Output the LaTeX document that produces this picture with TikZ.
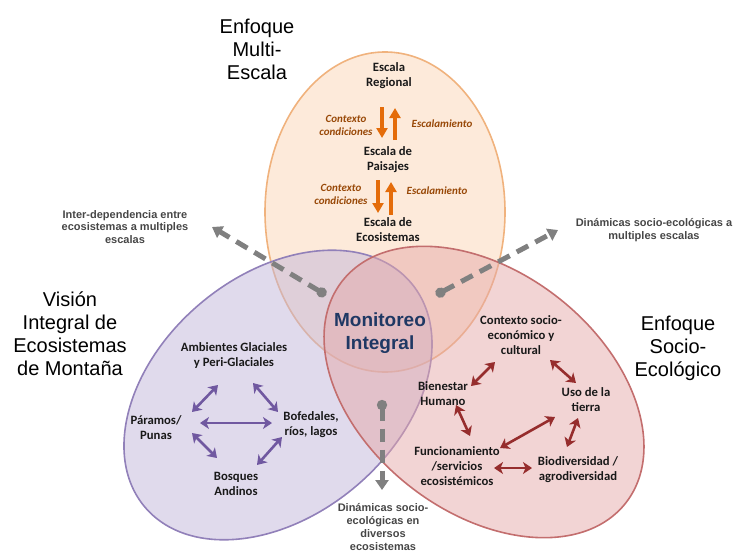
\documentclass[tikz,border=0pt]{standalone}
\usepackage{fontspec}
\setmainfont{Carlito}
\newfontfamily\arialf{Liberation Sans}
\usetikzlibrary{arrows.meta,positioning}
\definecolor{oFill}{RGB}{251,213,181}
\definecolor{oLine}{RGB}{240,178,125}
\definecolor{oArrow}{RGB}{228,108,10}
\definecolor{oText}{RGB}{152,72,7}
\definecolor{vFill}{RGB}{193,181,217}
\definecolor{vLine}{RGB}{145,128,185}
\definecolor{vArrow}{RGB}{112,88,160}
\definecolor{sFill}{RGB}{229,169,169}
\definecolor{sLine}{RGB}{195,110,110}
\definecolor{sArrow}{RGB}{150,45,45}
\definecolor{navy}{RGB}{31,56,100}
\definecolor{hintgray}{RGB}{70,70,70}
\definecolor{dashgray}{RGB}{128,128,128}

\begin{document}
\begin{tikzpicture}
  [
    x=1pt, y=-1pt,
    zone/.style={line width=1.6pt, fill opacity=0.5},
    heading/.style={font=\arialf\fontsize{20}{23}\selectfont, align=center, inner sep=0pt},
    core/.style={font=\arialf\bfseries\fontsize{19}{23}\selectfont, text=navy, align=center, inner sep=0pt},
    item/.style={font=\bfseries\fontsize{12.7}{15}\selectfont, text=black!90, align=center, inner sep=0pt},
    flow/.style={font=\bfseries\itshape\fontsize{11}{13}\selectfont, text=oText, align=center, inner sep=0pt},
    hint/.style={font=\arialf\bfseries\fontsize{11}{12.8}\selectfont, text=hintgray, align=center, inner sep=0pt},
    scaleup/.style={draw=oArrow, line width=3.2pt, -{Triangle[length=10pt,width=11pt]}},
    twoway/.style={line width=2.6pt, {Stealth[length=9pt,width=12pt,inset=2.5pt]}-{Stealth[length=9pt,width=12pt,inset=2.5pt]}},
    link/.style={draw=dashgray, line width=5pt, dash pattern=on 13pt off 8pt, {Circle[length=10pt]}-{Triangle[length=10pt,width=13pt]}}
  ]
  \path[use as bounding box] (0,0) rectangle (736,554);

  % the three zones
  \path[zone, fill=oFill, draw=oLine] (385,212) ellipse [x radius=120, y radius=160];
  \path[zone, fill=vFill, draw=vLine, rotate around={40:(278,395)}] (278,395) ellipse [x radius=174, y radius=120];
  \path[zone, fill=sFill, draw=sLine, rotate around={-38:(484,392)}] (484,392) ellipse [x radius=180, y radius=120];

  % headings
  \node (multi) [heading] at (257,49) {Enfoque\\Multi-\\Escala};
  \node (vision) [heading] at (70,334) {Visión\\Integral de\\Ecosistemas\\de Montaña};
  \node (socio) [heading] at (678,348) {Enfoque\\Socio-\\Ecológico};
  \node (mon) [core] at (380,333) {Monitoreo\\Integral};

  % multi-scale
  \node (reg) [item] at (389,76) {Escala\\Regional};
  \node (pai) [item] at (388,160) {Escala de\\Paisajes};
  \node (eco) [item] at (388,230) {Escala de\\Ecosistemas};
  \node (ctxA) [flow] at (346,125) {Contexto\\condiciones};
  \node (escA) [flow] at (442,124) {Escalamiento};
  \node (ctxB) [flow] at (341,194) {Contexto\\condiciones};
  \node (escB) [flow] at (437,191) {Escalamiento};

  \draw [scaleup] ([shift={(-7,31)}]reg.center) -- ([shift={(-6,-22)}]pai.center);
  \draw [scaleup] ([shift={(7,-20)}]pai.center) -- ([shift={(6,32)}]reg.center);
  \draw [scaleup] ([shift={(-10,20)}]pai.center) -- ([shift={(-10,-17)}]eco.center);
  \draw [scaleup] ([shift={(3,-15)}]eco.center) -- ([shift={(3,22)}]pai.center);

  % mountain ecosystems
  \node (amb) [item] at (234,356) {Ambientes Glaciales\\y Peri-Glaciales};
  \node (par) [item] at (156,428) {Páramos/\\Punas};
  \node (bof) [item] at (311,425) {Bofedales,\\ríos, lagos};
  \node (bos) [item] at (236,484) {Bosques\\Andinos};

  \draw [twoway, vArrow] ([shift={(-16,29)}]amb.center) -- ([shift={(36,-16)}]par.center);
  \draw [twoway, vArrow] ([shift={(19,27)}]amb.center) -- ([shift={(-33,-13)}]bof.center);
  \draw [twoway, vArrow] ([shift={(44,-5)}]par.center) -- ([shift={(-39,-2)}]bof.center);
  \draw [twoway, vArrow] ([shift={(36,5)}]par.center) -- ([shift={(-19,-26)}]bos.center);
  \draw [twoway, vArrow] ([shift={(-29,12)}]bof.center) -- ([shift={(21,-19)}]bos.center);

  % socio-ecological
  \node (ctx) [item] at (521,335) {Contexto socio-\\económico y\\cultural};
  \node (bie) [item] at (443,394) {Bienestar\\Humano};
  \node (uso) [item] at (586,400) {Uso de la\\tierra};
  \node (fun) [item] at (457,466) {Funcionamiento\\/servicios\\ecosistémicos};
  \node (bio) [item] at (578,470) {Biodiversidad /\\agrodiversidad};

  \draw [twoway, sArrow] ([shift={(-26,27)}]ctx.center) -- ([shift={(28,-8)}]bie.center);
  \draw [twoway, sArrow] ([shift={(29,25)}]ctx.center) -- ([shift={(-10,-17)}]uso.center);
  \draw [twoway, sArrow] ([shift={(13,11)}]bie.center) -- ([shift={(13,-30)}]fun.center);
  \draw [twoway, sArrow] ([shift={(-31,17)}]uso.center) -- ([shift={(43,-18)}]fun.center);
  \draw [twoway, sArrow] ([shift={(-8,18)}]uso.center) -- ([shift={(-11,-23)}]bio.center);
  \draw [twoway, sArrow] ([shift={(37,2)}]fun.center) -- ([shift={(-46,-2)}]bio.center);

  % outward links
  \node (hInter) [hint] at (125,227) {Inter-dependencia entre\\ecosistemas a multiples\\escalas};
  \node (hMulti) [hint] at (654,230) {Dinámicas socio-ecológicas a\\multiples escalas};
  \node (hDiv) [hint] at (383,527) {Dinámicas socio-\\ecológicas en\\diversos\\ecosistemas};

  \coordinate (dotL) at (326,295);
  \coordinate (tipL) at (212,227);
  \coordinate (dotR) at (436,295);
  \coordinate (tipR) at (558,230);
  \coordinate (dotB) at (382,400);
  \coordinate (tipB) at (382,490);
  \draw [link] (dotL) -- (tipL);
  \draw [link] (dotR) -- (tipR);
  \draw [link] (dotB) -- (tipB);
\end{tikzpicture}
\end{document}
